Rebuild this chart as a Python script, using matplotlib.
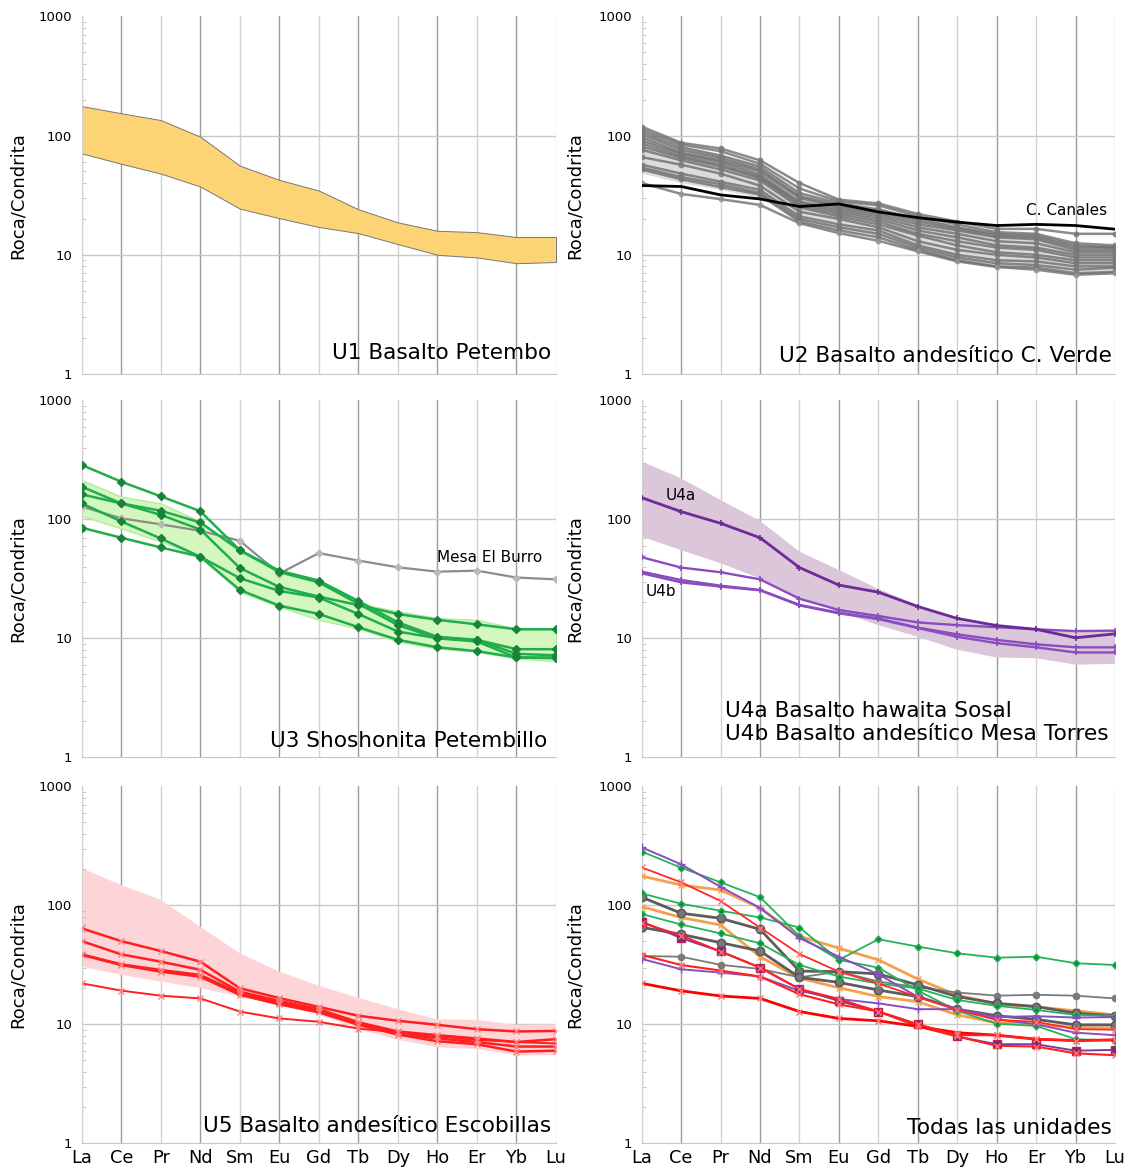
import matplotlib
matplotlib.use("Agg")
import matplotlib.pyplot as plt
from matplotlib.ticker import FixedLocator, LogLocator, NullFormatter

# ---------------- data ----------------
elements = ["La", "Ce", "Pr", "Nd", "Sm", "Eu", "Gd", "Tb", "Dy", "Ho", "Er", "Yb", "Lu"]
ytick_vals = [1, 10, 100, 1000]
ytick_labels = ["1", "10", "100", "1000"]

# U1 Basalto Petembo (band only)
u1_hi = [177, 154, 135, 98, 56, 42.5, 34.6, 24.1, 18.7, 15.9, 15.5, 14.1, 14.1]
u1_lo = [71, 58, 48, 37.4, 24.4, 20.3, 17.1, 15.2, 12.3, 10, 9.5, 8.5, 8.7]

# U2 Basalto andesitico C. Verde
u2_band_hi = [105, 80, 70, 55, 33, 27, 25, 20, 17.5, 15, 14.5, 12, 12]
u2_band_lo = [48, 40, 35, 30, 19, 16, 14, 11, 9, 8.2, 7.8, 7, 7]
u2_samples = [
    [119, 87, 78, 62, 40, 29, 27, 22, 19, 16.5, 16.5, 15, 15],
    [113, 84, 74, 58, 36, 28, 26, 21, 18, 15.5, 15, 12.5, 12],
    [108, 80, 68, 55, 33, 27, 24, 20, 17, 15, 14.5, 12, 11.5],
    [103, 76, 65, 52, 31, 26, 23, 19, 16.5, 14.5, 14, 11.5, 11.5],
    [97, 72, 62, 50, 30, 25, 22, 18, 16, 14, 13.5, 11, 11],
    [91, 70, 60, 47, 28, 24, 21, 17, 15, 13, 12.5, 10.5, 10.5],
    [86, 67, 57, 45, 27, 23, 20, 16, 14, 12, 11.5, 10, 10],
    [81, 65, 55, 44, 26, 22, 19, 15, 13, 11.5, 11, 9.5, 9.5],
    [76, 62, 52, 42, 25, 21, 18, 14.5, 12, 10.5, 10, 9, 9],
    [66, 57, 48, 38, 23, 20, 17, 13, 11, 10, 9.5, 8.5, 8.5],
    [57, 48, 41, 35, 21, 18, 16, 12, 10, 9, 8.8, 8, 8],
    [54, 45, 39, 33, 20, 17, 15, 11.5, 9.5, 8.5, 8.2, 7.5, 7.8],
    [52, 43, 37, 32, 19, 16, 14, 11, 9, 8, 7.8, 7, 7.2],
    [40, 32.4, 29.3, 26.2, 18.4, 15.2, 13.1, 10.7, 8.8, 7.9, 7.5, 6.8, 7.0],
]
u2_canales = [38.1, 37.4, 31.8, 29.4, 25.4, 26.7, 22.9, 20.5, 18.8, 17.6, 18.0, 17.6, 16.4]

# U3 Shoshonita Petembillo
u3_band_hi = [214, 155, 136, 96, 53, 37.5, 31, 19.5, 16.9, 14.8, 14.3, 12.1, 12]
u3_band_lo = [107, 84, 65, 48.5, 24.6, 18.5, 14.3, 12.1, 9.4, 8.2, 7.7, 6.8, 6.4]
u3_samples = [
    [286, 207, 156, 117, 55, 37, 30.5, 20.6, 13.6, 10.3, 9.7, 7.4, 7.2],
    [188, 136, 118, 94, 55, 36, 29.5, 19.5, 12.9, 10, 9.4, 6.9, 6.9],
    [162, 136, 109, 82, 39, 27, 22.4, 19, 16, 14.3, 13.1, 11.9, 11.9],
    [136, 96, 69, 48.5, 32, 25, 22, 16, 11.4, 10, 9.7, 8.1, 8.1],
    [85, 70, 58, 48.5, 25.5, 18.8, 16, 12.4, 9.7, 8.4, 7.8, 6.9, 6.8],
]
u3_mesa_burro = [128, 102, 90.7, 80, 66, 35, 52, 45, 39.5, 36.3, 37, 32.4, 31.3]

# U4a / U4b
u4_band_hi = [305, 221, 145, 97, 53.5, 37.5, 26, 19, 14.8, 12.8, 12, 11.5, 11.5]
u4_band_lo = [71.5, 55, 42.7, 31.9, 21.7, 16.7, 12.9, 10.3, 8.0, 6.9, 6.8, 6.0, 6.1]
u4a = [152, 116, 92.5, 70, 39.3, 28, 24.4, 18.5, 14.7, 12.8, 11.9, 10.1, 10.9]
u4b_1 = [48, 39.3, 35.9, 31.3, 21.5, 17.3, 15.4, 13.6, 12.9, 12.4, 11.9, 11.5, 11.6]
u4b_2 = [36.3, 30.9, 27.7, 25.5, 19.1, 16.4, 14.7, 12.3, 10.8, 9.7, 8.9, 8.4, 8.4]
u4b_3 = [35.2, 29.5, 27.2, 25.3, 18.9, 16.2, 14.5, 12.2, 10.3, 9.1, 8.4, 7.6, 7.6]

# U5 Basalto andesitico Escobillas
u5_band_hi = [205, 148, 111, 66, 39.5, 27.7, 21.1, 16.7, 13.4, 11, 10.9, 9.9, 10]
u5_band_lo = [30.5, 26, 22.9, 20.1, 17.1, 14.5, 12.1, 9.1, 7.4, 6.4, 6.2, 5.5, 5.5]
u5_samples = [
    [64, 50, 41.3, 33.6, 20.1, 16.6, 14, 11.8, 10.7, 9.9, 9.1, 8.7, 8.8],
    [50, 38.7, 33.6, 28.7, 18.8, 15.7, 13.4, 10.4, 8.7, 8.1, 7.6, 7.1, 7.5],
    [38.7, 31.9, 28.6, 26, 18.2, 15.2, 12.9, 10.2, 8.4, 7.6, 7.1, 6.5, 6.5],
    [38.3, 31.5, 27.7, 25.1, 17.7, 14.7, 12.6, 9.9, 8.2, 7.2, 6.8, 5.9, 6.0],
    [22.1, 19.2, 17.4, 16.5, 12.8, 11.2, 10.5, 9.2, 8.6, 7.9, 7.4, 7.1, 6.9],
]

# Todas las unidades
u6_orange_1 = [176, 148, 134.5, 95, 55, 43.6, 34.8, 24, 17.6, 14.8, 14, 13, 12]
u6_orange_2 = [97.5, 79, 68.3, 37, 24.4, 20.3, 17.1, 15.5, 12, 10.3, 10, 9.4, 9.3]
u6_gray_1 = [117, 85.8, 77.8, 62.8, 28, 27.7, 26.5, 21.4, 17.1, 15, 14.1, 12.4, 11.8]
u6_gray_2 = [65.3, 57, 48.5, 41.3, 24.8, 22.5, 19.4, 17.1, 13.4, 11.8, 11, 9.9, 9.9]
u6_gray_cc = [37.5, 37, 31.6, 29.2, 24.8, 27.7, 22.9, 20.5, 18.5, 17.4, 17.7, 17.4, 16.5]
u6_green_1 = [283, 207, 156, 117, 55, 34.8, 29.9, 19.2, 13, 10.1, 9.7, 7.5, 7.3]
u6_green_meb = [126, 103, 90, 79, 65, 34.8, 51.8, 45, 39.5, 36.3, 37, 32.6, 31.5]
u6_green_3 = [84.5, 69, 58, 48, 31.5, 25.2, 22, 20, 16, 14.3, 13.2, 12, 11.8]
u6_purple_1 = [307, 221, 143, 95, 53, 37, 26.3, 17, 13.4, 11, 10, 8.5, 8.1]
u6_purple_sq = [73, 53, 41, 30, 19.8, 15.7, 12.8, 10, 7.9, 6.8, 6.8, 6.0, 6.1]
u6_purple_3 = [35.4, 29, 27.2, 25.2, 19.1, 16.3, 15, 13.4, 13.4, 11.5, 11.7, 11.4, 11.5]
u6_red_1 = [208, 156, 108.7, 64.9, 39, 27.7, 22, 17, 13.2, 10.9, 10.5, 9.1, 9.0]
u6_red_2 = [71.5, 55.6, 40.9, 29.9, 19.8, 16.3, 12.8, 10, 8.1, 8.1, 7.5, 7.3, 7.4]
u6_red_3 = [38.3, 31.5, 28.3, 25.2, 17.9, 14.7, 12.8, 9.6, 7.9, 6.6, 6.5, 5.7, 5.5]
u6_red_4 = [22.1, 19.1, 17.3, 16.5, 12.8, 11.2, 10.7, 9.6, 8.5, 8.1, 7.5, 7.3, 7.4]

titles = ["U1 Basalto Petembo", "U2 Basalto andesítico C. Verde",
          "U3 Shoshonita Petembillo",
          "U4a Basalto hawaita Sosal\nU4b Basalto andesítico Mesa Torres",
          "U5 Basalto andesítico Escobillas", "Todas las unidades"]

# ---------------- figure ----------------
plt.rcParams["font.family"] = ["DejaVu Sans"]
fig = plt.figure(figsize=(11.37, 11.69), dpi=100)
x = list(range(len(elements)))
TFS = 15.6

W, H = 1137.0, 1169.0
boxes = [
    (81.7, 16.4, 556.0, 374.0), (641.7, 16.4, 1115.0, 374.0),
    (81.7, 400.3, 556.0, 757.3), (641.7, 400.3, 1115.0, 757.3),
    (81.7, 786.3, 556.0, 1143.3), (641.7, 786.3, 1115.0, 1143.3),
]
axes = []
for i, (x0, y0, x1, y1) in enumerate(boxes):
    ax = fig.add_axes([x0 / W, 1 - y1 / H, (x1 - x0) / W, (y1 - y0) / H])
    ax.set_yscale("log")
    ax.set_ylim(1, 1000)
    ax.set_xlim(0, len(elements) - 1)
    for k in x:
        ax.axvline(k, color="#9c9c9c" if k % 2 else "#d2d2d2", lw=1.0, zorder=0.5)
    for v in (10, 100):
        ax.axhline(v, color="#c8c8c8", lw=1.0, zorder=0.5)
    for s in ("top", "right"):
        ax.spines[s].set_visible(False)
    ax.spines["left"].set_color("#d0d0d0")
    ax.spines["bottom"].set_color("#c8c8c8")
    ax.yaxis.set_major_locator(FixedLocator(ytick_vals))
    ax.set_yticklabels(ytick_labels, fontsize=9.5)
    ax.yaxis.set_minor_locator(LogLocator(base=10, subs=range(2, 10)))
    ax.yaxis.set_minor_formatter(NullFormatter())
    ax.tick_params(axis="y", which="major", length=0, pad=7)
    ax.tick_params(axis="y", which="minor", length=3, direction="in", color="#c0c0c0")
    ax.set_xticks(x)
    if i >= 4:
        ax.set_xticklabels(elements, fontsize=12.8)
        ax.tick_params(axis="x", length=0, pad=4)
    else:
        ax.set_xticklabels([])
        ax.tick_params(axis="x", length=0)
    ax.set_ylabel("Roca/Condrita", fontsize=13)
    ax.yaxis.set_label_coords(-0.115 if i % 2 == 0 else -0.122, 0.5)
    axes.append(ax)

# U1
ax = axes[0]
ax.fill_between(x, u1_lo, u1_hi, facecolor="#fcd375", edgecolor="#777777", lw=0.7, zorder=2)
ax.text(0.989, 0.059, titles[0], transform=ax.transAxes, ha="right", va="center", fontsize=TFS)

# U2
ax = axes[1]
ax.fill_between(x, u2_band_lo, u2_band_hi, facecolor="#dcdcdc", edgecolor="none", zorder=1.5)
for j, s in enumerate(u2_samples):
    mc = "#8a96aa" if j == len(u2_samples) - 1 else "#7a7a7a"
    ax.plot(x, s, color="#6e6e6e", lw=1.8, alpha=0.8, marker="o", ms=3.2,
            mfc=mc, mec=mc, zorder=3)
ax.plot(x, u2_canales, color="black", lw=2.0, zorder=4)
ax.text(11.8, 23.5, "C. Canales", ha="right", va="center", fontsize=11)
ax.text(0.994, 0.05, titles[1], transform=ax.transAxes, ha="right", va="center", fontsize=TFS)

# U3
ax = axes[2]
ax.fill_between(x, u3_band_lo, u3_band_hi, facecolor="#d4f7c0", edgecolor="#b8e8a4", lw=1.0, zorder=1.5)
ax.plot(x, u3_mesa_burro, color="#8c8c8c", lw=1.6, marker="D", ms=3.5,
        mfc="#b8b8b8", mec="#b8b8b8", zorder=2.5)
for s in u3_samples:
    ax.plot(x, s, color="#1fae4a", lw=1.8, marker="D", ms=3.8,
            mfc="#17843a", mec="#17843a", zorder=3)
ax.text(11.65, 48, "Mesa El Burro", ha="right", va="center", fontsize=11)
ax.text(0.981, 0.046, titles[2], transform=ax.transAxes, ha="right", va="center", fontsize=TFS)

# U4
ax = axes[3]
ax.fill_between(x, u4_band_lo, u4_band_hi, facecolor="#dbc6da", edgecolor="none", zorder=1.5)
for s in (u4b_1, u4b_2, u4b_3):
    ax.plot(x, s, color="#8a4cc0", lw=1.7, marker="+", ms=5, mew=1.2, zorder=3)
ax.plot(x, u4a, color="#6c2c98", lw=2.0, marker="+", ms=5, mew=1.2, zorder=3.5)
ax.text(1.0, 160, "U4a", ha="center", va="center", fontsize=11)
ax.text(0.48, 24.5, "U4b", ha="center", va="center", fontsize=11)
ax.text(0.176, 0.097, titles[3], transform=ax.transAxes, ha="left", va="center",
        fontsize=TFS, linespacing=1.15)

# U5
ax = axes[4]
ax.fill_between(x, u5_band_lo, u5_band_hi, facecolor="#fdd5d8", edgecolor="none", zorder=1.5)
for j, s in enumerate(u5_samples):
    ax.plot(x, s, color="#ff1f1f", lw=1.8 if j < 4 else 1.4, marker="x", ms=4.5,
            mec="#ff8080", mew=1.0, zorder=3)
ax.text(0.99, 0.048, titles[4], transform=ax.transAxes, ha="right", va="center", fontsize=TFS)

# U6 - todas
ax = axes[5]
def pl(vals, color, marker, lw=1.5, ms=4.5, mfc=None, mec=None, z=3):
    ax.plot(x, vals, color=color, lw=lw, marker=marker, ms=ms,
            mfc=mfc or color, mec=mec or color, zorder=z)

pl(u6_orange_1, "#f6a04d", "x", lw=2.0, ms=5)
pl(u6_orange_2, "#f6a04d", "x", lw=2.0, ms=5)
pl(u6_gray_cc, "#7a7a7a", "o", lw=1.3, ms=4.5)
pl(u6_gray_1, "#5c5c5c", "o", lw=2.0, ms=6, mfc="#777777", mec="#555555")
pl(u6_gray_2, "#5c5c5c", "o", lw=2.0, ms=6, mfc="#777777", mec="#555555")
pl(u6_green_meb, "#25b35a", "D", lw=1.3, ms=3.5, mfc="#148a3c")
pl(u6_green_1, "#25b35a", "D", lw=1.3, ms=3.5, mfc="#148a3c")
pl(u6_green_3, "#25b35a", "D", lw=1.3, ms=3.5, mfc="#148a3c")
pl(u6_purple_1, "#8a4cc0", "+", lw=1.4, ms=6)
pl(u6_purple_3, "#8a4cc0", "+", lw=1.4, ms=6)
pl(u6_purple_sq, "#7a3aa8", "s", lw=1.4, ms=5.5, mfc="#6a2c8e", mec="#c0204a")
pl(u6_red_1, "#ff2a2a", "x", lw=1.3, ms=5, mec="#ff7070")
pl(u6_red_2, "#ff2020", "x", lw=1.5, ms=5, mec="#ff7070", z=3.2)
pl(u6_red_3, "#ff2020", "x", lw=1.5, ms=5, mec="#ff7070")
pl(u6_red_4, "#ff0000", "x", lw=2.0, ms=5, mec="#ff7070")
ax.text(0.994, 0.043, titles[5], transform=ax.transAxes, ha="right", va="center", fontsize=TFS)

fig.savefig("out.png", dpi=100)
